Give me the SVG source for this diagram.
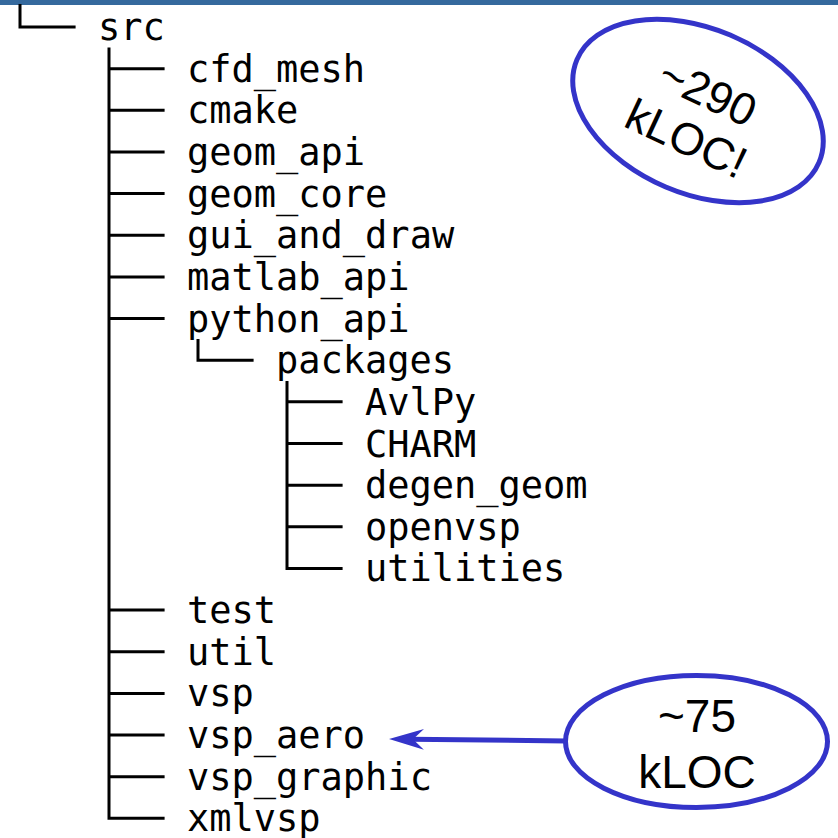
<svg xmlns="http://www.w3.org/2000/svg" width="838" height="838" viewBox="0 0 838 838">
<style>
.t{font-family:"DejaVu Sans Mono","Liberation Mono",monospace;font-size:37px;fill:#000}
.tree{fill:none;stroke:#000;stroke-width:3;stroke-linejoin:miter}
.oval{fill:#fff;stroke:#3434C9;stroke-width:5}
.c{font-family:"Liberation Sans",Arial,sans-serif;fill:#000;text-anchor:middle}
</style>
<defs>
<marker id="ah" viewBox="0 0 35 21" markerUnits="userSpaceOnUse" markerWidth="35" markerHeight="21" refX="14" refY="10.5" orient="auto">
<path d="M35,10.5 L0,0 L11,10.5 L0,21 Z" fill="#3434C9"/>
</marker>
</defs>
<rect x="0" y="0" width="838" height="5" fill="#35699D"/>
<g id="connectors">
<path class="tree" d="M20,4 V27 H75.6"/>
<path class="tree" d="M109,47.6 V818.35 H164.6"/>
<path class="tree" d="M109,68.65 H164.6 M109,110.3 H164.6 M109,151.95 H164.6 M109,193.6 H164.6 M109,235.25 H164.6 M109,276.9 H164.6 M109,318.55 H164.6 M109,610.1 H164.6 M109,651.75 H164.6 M109,693.4 H164.6 M109,735.05 H164.6 M109,776.7 H164.6"/>
<path class="tree" d="M198,339 V360.2 H253.6"/>
<path class="tree" d="M287,381 V568.45 H342.6"/>
<path class="tree" d="M287,401.85 H342.6 M287,443.5 H342.6 M287,485.15 H342.6 M287,526.8 H342.6"/>
<path d="M566,741 L410,739.2" fill="none" stroke="#3434C9" stroke-width="5" marker-end="url(#ah)"/>
</g>
<g id="n-src"><text class="t" x="97.9" y="40">src</text></g>
<g id="n-cfd_mesh"><text class="t" x="186.9" y="81.65">cfd_mesh</text></g>
<g id="n-cmake"><text class="t" x="186.9" y="123.3">cmake</text></g>
<g id="n-geom_api"><text class="t" x="186.9" y="164.95">geom_api</text></g>
<g id="n-geom_core"><text class="t" x="186.9" y="206.6">geom_core</text></g>
<g id="n-gui_and_draw"><text class="t" x="186.9" y="248.25">gui_and_draw</text></g>
<g id="n-matlab_api"><text class="t" x="186.9" y="289.9">matlab_api</text></g>
<g id="n-python_api"><text class="t" x="186.9" y="331.55">python_api</text></g>
<g id="n-packages"><text class="t" x="275.9" y="373.2">packages</text></g>
<g id="n-AvlPy"><text class="t" x="364.9" y="414.85">AvlPy</text></g>
<g id="n-CHARM"><text class="t" x="364.9" y="456.5">CHARM</text></g>
<g id="n-degen_geom"><text class="t" x="364.9" y="498.15">degen_geom</text></g>
<g id="n-openvsp"><text class="t" x="364.9" y="539.8">openvsp</text></g>
<g id="n-utilities"><text class="t" x="364.9" y="581.45">utilities</text></g>
<g id="n-test"><text class="t" x="186.9" y="623.1">test</text></g>
<g id="n-util"><text class="t" x="186.9" y="664.75">util</text></g>
<g id="n-vsp"><text class="t" x="186.9" y="706.4">vsp</text></g>
<g id="n-vsp_aero"><text class="t" x="186.9" y="748.05">vsp_aero</text></g>
<g id="n-vsp_graphic"><text class="t" x="186.9" y="789.7">vsp_graphic</text></g>
<g id="n-xmlvsp"><text class="t" x="186.9" y="831.35">xmlvsp</text></g>
<g id="callout-290">
<ellipse class="oval" cx="698" cy="111" rx="131.5" ry="82.5" transform="rotate(23 698 111)"/>
<g transform="translate(698,111) rotate(25)">
<text class="c" x="1" y="-5.5" font-size="45">~290</text>
<text class="c" x="1" y="45.5" font-size="45">kLOC!</text>
</g>
</g>
<g id="callout-75">
<ellipse class="oval" cx="696.5" cy="741.5" rx="131" ry="66"/>
<text class="c" x="697" y="731.5" font-size="46">~75</text>
<text class="c" x="697" y="788" font-size="46">kLOC</text>
</g>
</svg>
